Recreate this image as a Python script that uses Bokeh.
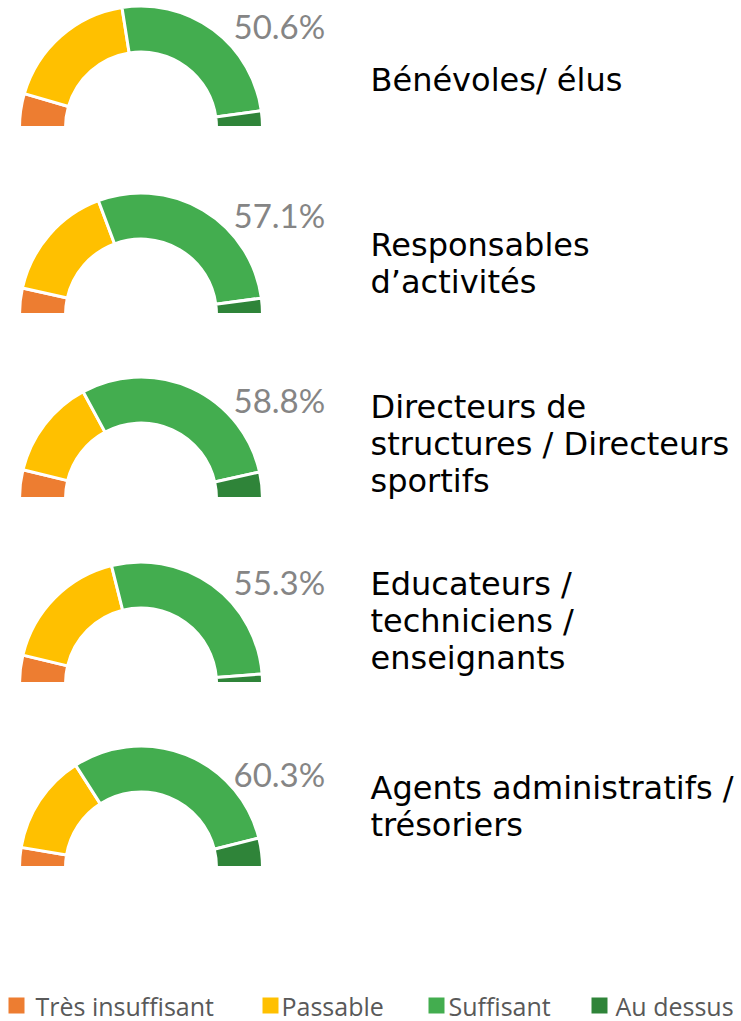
import math
from bokeh.plotting import figure
from bokeh.models import Range1d, ColumnDataSource
from bokeh.core.properties import value
from bokeh.embed import file_html
from bokeh.resources import INLINE

# ---------------- data ----------------
categories = [
    ["Bénévoles/ élus"],
    ["Responsables", "d’activités"],
    ["Directeurs de", "structures / Directeurs", "sportifs"],
    ["Educateurs /", "techniciens /", "enseignants"],
    ["Agents administratifs /", "trésoriers"],
]
series_names = ["Très insuffisant", "Passable", "Suffisant", "Au dessus"]
tres_insuffisant = [9.0, 7.0, 7.6, 7.5, 5.3]
passable = [36.0, 31.6, 26.6, 34.7, 26.6]
suffisant = [50.6, 57.1, 58.8, 55.3, 60.3]
au_dessus = [4.4, 4.3, 7.0, 2.5, 7.8]
colors = ["#ED7D31", "#FFC000", "#43AD4F", "#2F8439"]

# ---------------- layout (page pixels) ----------------
W, H = 741, 1021
def Y(py):
    # page pixel row -> data y
    return H - py

cx = 140.5
bottoms = [127, 314, 498, 683, 867]
r_in, r_out = 75.5, 121.5
pct_x = 233
pct_dy = [102, 100, 99, 102, 94]
lab_x = 370
lab_first_mid = [79, 244, 406, 583, 787]
lab_step = 37.2

p = figure(width=W, height=H, x_range=Range1d(0, W), y_range=Range1d(0, H),
           output_backend="svg", toolbar_location=None, min_border=0)
p.axis.visible = False
p.grid.visible = False
p.outline_line_color = None
p.background_fill_color = "white"
p.border_fill_color = "white"

# wedges
xs, ys, starts, ends, cols = [], [], [], [], []
series = [tres_insuffisant, passable, suffisant, au_dessus]
for i in range(len(categories)):
    total = sum(s[i] for s in series)
    cum = 0.0
    for k, s in enumerate(series):
        before = cum / total
        cum += s[i]
        after = cum / total
        xs.append(cx)
        ys.append(Y(bottoms[i]))
        starts.append(math.pi * (1 - after))
        ends.append(math.pi * (1 - before))
        cols.append(colors[k])
src = ColumnDataSource(dict(x=xs, y=ys, start=starts, end=ends, color=cols))
p.annular_wedge(x="x", y="y", inner_radius=r_in, outer_radius=r_out,
                start_angle="start", end_angle="end", fill_color="color",
                line_color="white", line_width=3, source=src)

# percentage labels
pct_src = ColumnDataSource(dict(
    x=[pct_x] * len(suffisant),
    y=[Y(b - d) for b, d in zip(bottoms, pct_dy)],
    t=[f"{v:.1f}%" for v in suffisant]))
p.text(x="x", y="y", text="t", source=pct_src, text_font=value("Lato"),
       text_font_size="33px", text_color="#858585", text_baseline="middle",
       text_align="left")

# category labels
lx, ly, lt = [], [], []
for i, lines in enumerate(categories):
    for j, line in enumerate(lines):
        lx.append(lab_x)
        ly.append(Y(lab_first_mid[i] + j * lab_step))
        lt.append(line)
p.text(x=lx, y=ly, text=lt, text_font=value("DejaVu Sans"), text_font_size="32px",
       text_color="#000000", text_baseline="middle", text_align="left")

# legend
sq_left = [8, 262, 428, 591]
txt_left = [35, 281, 448, 615]
sq = 16
leg_mid = 1005
p.rect(x=[l + sq / 2 for l in sq_left], y=[Y(leg_mid)] * 4, width=sq, height=sq,
       fill_color=colors, line_color=None)
p.text(x=txt_left, y=[Y(leg_mid)] * 4, text=series_names, text_font=value("Open Sans"),
       text_font_size="25px", text_color="#595959", text_baseline="middle",
       text_align="left")

open("out.html", "w").write(file_html(p, INLINE))
